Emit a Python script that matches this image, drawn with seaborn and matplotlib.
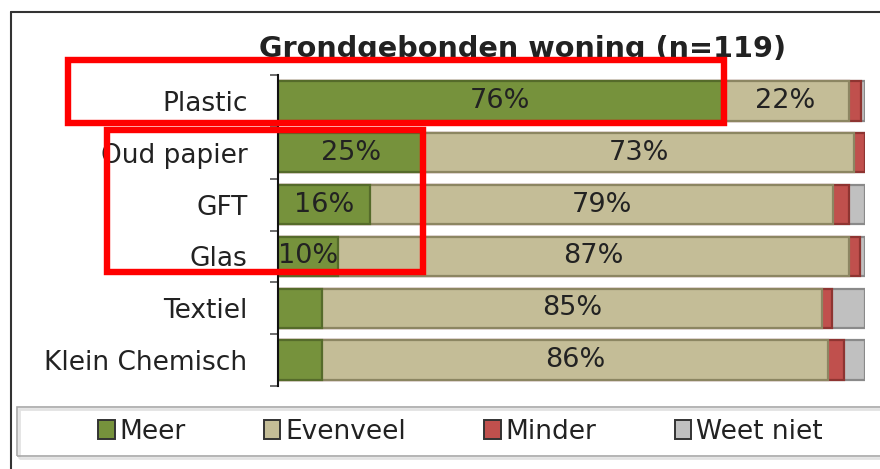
import numpy as np
import pandas as pd
import matplotlib
matplotlib.use("Agg")
import matplotlib.pyplot as plt
import seaborn as sns
from matplotlib.patches import Rectangle, Patch
from matplotlib.lines import Line2D

# ---- data ----
categories = ["Plastic", "Oud papier", "GFT", "Glas", "Textiel", "Klein Chemisch"]
meer = [75.6, 24.8, 15.7, 10.2, 7.5, 7.5]
evenveel = [21.6, 73.4, 78.9, 87.0, 85.2, 86.2]
minder = [2.1, 1.8, 2.7, 1.9, 1.7, 2.7]
weet_niet = [0.7, 0.0, 2.7, 0.9, 5.6, 3.6]
series_names = ["Meer", "Evenveel", "Minder", "Weet niet"]
title = "Grondgebonden woning (n=119)"

colors = ["#76923C", "#C4BD97", "#C0504D", "#C0C0C0"]
edges = ["#556B2A", "#8C8662", "#8E3431", "#8A8A8A"]

sns.set_theme(style="white")
plt.rcParams["font.family"] = ["DejaVu Sans"]

W, H = 880, 469
fig = plt.figure(figsize=(W / 100, H / 100), dpi=100)
fig.patch.set_facecolor("white")
ax = fig.add_axes([278 / W, 1 - 386 / H, (865 - 278) / W, (386 - 75) / H])

series = [meer, evenveel, minder, weet_niet]
df = pd.DataFrame({"categorie": categories})
for name, vals in zip(series_names, series):
    df[name] = vals
cum = df[series_names].cumsum(axis=1)

# draw cumulative bars from largest to smallest so they stack visually
for name, col, ec in reversed(list(zip(series_names, colors, edges))):
    sns.barplot(data=pd.DataFrame({"categorie": categories, "v": cum[name]}),
                x="v", y="categorie", orient="h", color=col, edgecolor=ec,
                linewidth=1.6, width=0.76, saturation=1, ax=ax, zorder=2)

# segment labels
for i in range(len(categories)):
    left = 0.0
    for name in series_names:
        w = df.loc[i, name]
        if w >= 10:
            ax.text(left + w / 2, i, f"{w:.0f}%", ha="center", va="center",
                    fontsize=19.5, color="#222222", zorder=5)
        left += w

ax.set_xlim(0, 100)
ax.set_ylim(5.5, -0.5)
ax.set_xlabel("")
ax.set_ylabel("")
ax.set_xticks([])
for s in ["top", "right", "bottom"]:
    ax.spines[s].set_visible(False)
ax.spines["left"].set_color("#111111")
ax.spines["left"].set_linewidth(1.5)
ax.set_yticks(range(len(categories)))
ax.set_yticklabels(categories, fontsize=19, color="#222222")
ax.set_yticks(np.arange(-0.5, len(categories), 1), minor=True)
ax.tick_params(axis="y", which="major", length=0, pad=22)
ax.tick_params(axis="y", which="minor", length=6, width=1.2, color="#555555", direction="out", left=True)
ax.set_facecolor("white")

# title
fig.text(522.5 / W, 1 - 57 / H, title, ha="center", va="baseline",
         fontsize=20.7, fontweight="bold", color="#222222")

# legend
handles = [Patch(facecolor=c, edgecolor="#333333", linewidth=1.4) for c in colors]
fig.legend(handles, series_names, loc="center", bbox_to_anchor=(460.5 / W, 1 - 432 / H),
           ncol=4, frameon=False, fontsize=19, handlelength=0.62, handleheight=0.72,
           handletextpad=0.2, columnspacing=2.95, labelcolor="#222222")
fig.patches.append(Rectangle((19 / W, 1 - 458 / H), (900 - 19) / W, (458 - 409) / H,
                             transform=fig.transFigure, fill=False,
                             edgecolor="#E2E2E2", linewidth=2.0, zorder=1))
fig.patches.append(Rectangle((17 / W, 1 - 456 / H), (900 - 17) / W, (456 - 407) / H,
                             transform=fig.transFigure, fill=False,
                             edgecolor="#A8A8A8", linewidth=1.2, zorder=1))

# outer frame
fig.lines.append(Line2D([10.7 / W, 1.0], [1 - 11.7 / H, 1 - 11.7 / H], transform=fig.transFigure,
                        color="#333333", linewidth=1.5))
fig.lines.append(Line2D([10.7 / W, 10.7 / W], [1 - 11.7 / H, 0.0], transform=fig.transFigure,
                        color="#333333", linewidth=1.5))

# red highlight boxes
fig.patches.append(Rectangle((67.5 / W, 1 - 123.5 / H), (724 - 67.5) / W, (123.5 - 60.5) / H,
                             transform=fig.transFigure, fill=False, edgecolor="#FF0000",
                             linewidth=4.6, zorder=10))
fig.patches.append(Rectangle((106.5 / W, 1 - 272 / H), (422.5 - 106.5) / W, (272 - 130) / H,
                             transform=fig.transFigure, fill=False, edgecolor="#FF0000",
                             linewidth=4.6, zorder=10))

fig.savefig("out.png", dpi=100)
